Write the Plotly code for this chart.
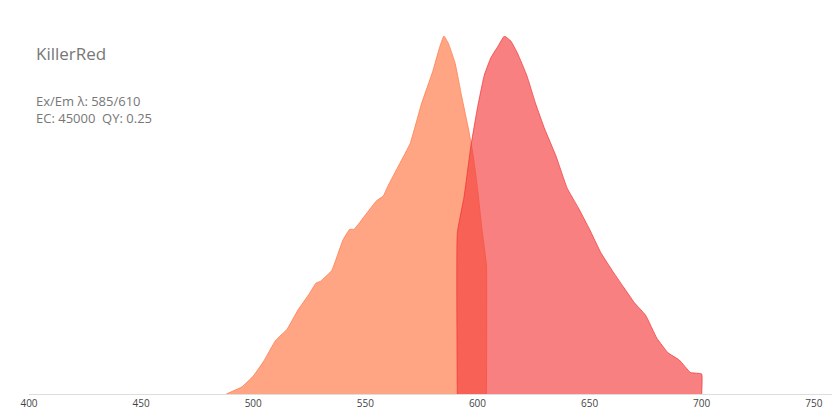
import plotly.graph_objects as go

ex_wl = [488,495,500,505,510,515,520,525,528,530,535,540,543,545,550,555,558,560,565,570,575,580,583,585,587,590,593,596,598,600,602,604,604]
ex_val = [0,0.02,0.05,0.095,0.15,0.18,0.235,0.28,0.31,0.315,0.345,0.43,0.46,0.46,0.50,0.54,0.553,0.58,0.64,0.70,0.81,0.90,0.966,1.0,0.98,0.925,0.83,0.74,0.67,0.575,0.46,0.36,0]
em_wl = [591,591,594,597,600,603,606,609,612,615,618,622,626,630,635,640,645,650,655,660,665,670,675,680,685,690,695,700,700]
em_val = [0,0.45,0.55,0.69,0.80,0.89,0.94,0.97,1.0,0.985,0.95,0.89,0.81,0.74,0.665,0.575,0.52,0.46,0.395,0.346,0.30,0.255,0.22,0.156,0.115,0.095,0.06,0.056,0]
ticks = [400,450,500,550,600,650,700,750]

fig = go.Figure()
fig.add_trace(go.Scatter(x=ex_wl, y=ex_val, mode="lines", fill="tozeroy",
    line=dict(color="rgba(255,127,80,0.8)", width=1, shape="spline", smoothing=0.3),
    fillcolor="rgba(255,127,80,0.7)", hoverinfo="skip"))
fig.add_trace(go.Scatter(x=em_wl, y=em_val, mode="lines", fill="tozeroy",
    line=dict(color="rgba(240,50,50,0.7)", width=1, shape="spline", smoothing=0.3),
    fillcolor="rgba(245,60,60,0.65)", hoverinfo="skip"))
fig.update_layout(
    width=840, height=420, showlegend=False, plot_bgcolor="white", paper_bgcolor="white",
    margin=dict(l=12, r=14, t=28, b=34),
    xaxis=dict(range=[400, 759], tickvals=ticks, showgrid=False, zeroline=False,
               showline=True, linecolor="#ddd", ticks="", tickfont=dict(size=10, color="#444", family="Open Sans")),
    yaxis=dict(range=[0, 1.0], visible=False),
    font=dict(family="Open Sans"),
    annotations=[
        dict(text="KillerRed", x=17, y=36, xref="paper", yref="paper", showarrow=False),
    ],
)
fig.layout.annotations = []
fig.add_annotation(text="KillerRed", xref="paper", yref="paper", x=0.006, y=0.99, xanchor="left", yanchor="top",
    showarrow=False, font=dict(size=17, color="#777"))
fig.add_annotation(text="Ex/Em λ: 585/610<br>EC: 45000  QY: 0.25", xref="paper", yref="paper", x=0.006, y=0.85,
    xanchor="left", yanchor="top", align="left", showarrow=False, font=dict(size=13, color="#777"))
fig.write_html("out.html")
